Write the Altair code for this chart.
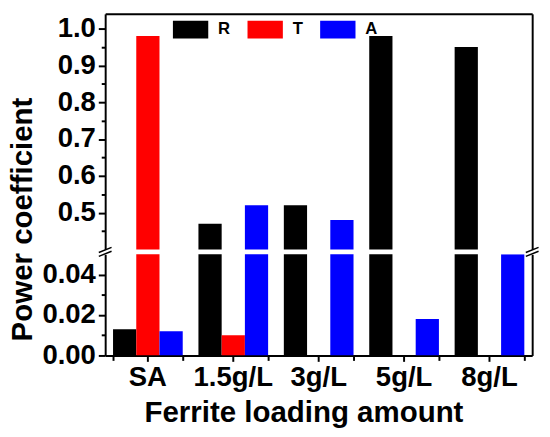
import altair as alt
import pandas as pd

categories = ["SA", "1.5g/L", "3g/L", "5g/L", "8g/L"]
series = ["R", "T", "A"]
r_values = [0.013, 0.47, 0.52, 0.98, 0.95]
t_values = [0.98, 0.010, 0.0, 0.0, 0.0]
a_values = [0.012, 0.52, 0.48, 0.018, 0.05]
colors = ["#000000", "#FF0000", "#0000FF"]

upper_ticks = [0.5, 0.6, 0.7, 0.8, 0.9, 1.0]
upper_minor = [0.45, 0.55, 0.65, 0.75, 0.85, 0.95]
lower_ticks = [0.0, 0.02, 0.04]
lower_minor = [0.01, 0.03]
upper_domain = [0.4, 1.04]
lower_domain = [0.0, 0.05]
break_value = [0.05]

rows = []
for s, vals in zip(series, [r_values, t_values, a_values]):
    for c, v in zip(categories, vals):
        rows.append({"cat": c, "series": s, "value": v})
df = pd.DataFrame(rows)
brk = pd.DataFrame({"v": break_value})

FONT = "Liberation Sans"
W = 435
H_UP = 240
H_LO = 103

xscale = alt.Scale(domain=categories, paddingInner=0.184, paddingOuter=0.092)
xoff = alt.XOffset("series:N", sort=series,
                   scale=alt.Scale(domain=series, paddingInner=0, paddingOuter=0))
up_scale = alt.Scale(domain=upper_domain, zero=False, nice=False)
lo_scale = alt.Scale(domain=lower_domain, zero=False, nice=False)
color_scale = alt.Scale(domain=series, range=colors)

legend = alt.Legend(
    orient="none", legendX=69, legendY=-2, direction="horizontal", title=None,
    symbolType="M-1,-0.5L1,-0.5L1,0.5L-1,0.5Z", symbolSize=1296,
    symbolStrokeWidth=0, symbolOpacity=1, padding=0,
    labelFont=FONT, labelFontSize=17, labelFontWeight="bold", labelColor="black",
    labelOffset=10, columnPadding=17,
)

top_axis = alt.Axis(orient="top", labels=False, ticks=False, title=None)
bottom_axis = alt.Axis(orient="bottom", labelAngle=0, tickSize=6, labelPadding=3,
                       title="Ferrite loading amount", titlePadding=6, titleX=202)
bottom_minor_axis = alt.Axis(orient="bottom", tickBand="extent", labels=False,
                             domain=False, tickSize=5, title=None)

# ---------- upper panel ----------
bars_up = alt.Chart(df).mark_bar(clip=True).encode(
    x=alt.X("cat:N", sort=categories, scale=xscale, axis=top_axis),
    xOffset=xoff,
    y=alt.Y("value:Q", scale=up_scale,
            axis=alt.Axis(values=upper_ticks, format=".1f", title=None,
                          tickSize=7, labelPadding=3)),
    color=alt.Color("series:N", sort=series, scale=color_scale, legend=legend),
)
minor_up = alt.Chart(df).mark_bar(opacity=0, clip=True).encode(
    x=alt.X("cat:N", sort=categories, scale=xscale, axis=top_axis),
    y=alt.Y("value:Q", scale=up_scale,
            axis=alt.Axis(orient="left", values=upper_minor, labels=False,
                          domain=False, tickSize=4, title=None)),
)
right_up = alt.Chart(df).mark_bar(opacity=0, clip=True).encode(
    x=alt.X("cat:N", sort=categories, scale=xscale, axis=top_axis),
    y=alt.Y("value:Q", scale=up_scale,
            axis=alt.Axis(orient="right", labels=False, ticks=False, title=None)),
)
upper = alt.layer(bars_up, minor_up, right_up).resolve_axis(
    y="independent").properties(width=W, height=H_UP)

# ---------- lower panel ----------
bars_lo = alt.Chart(df).mark_bar(clip=True).encode(
    x=alt.X("cat:N", sort=categories, scale=xscale, axis=bottom_axis),
    xOffset=xoff,
    y=alt.Y("value:Q", scale=lo_scale,
            axis=alt.Axis(values=lower_ticks, format=".2f", title=None,
                          tickSize=7, labelPadding=3)),
    color=alt.Color("series:N", sort=series, scale=color_scale, legend=None),
)
minor_lo = alt.Chart(df).mark_bar(opacity=0, clip=True).encode(
    x=alt.X("cat:N", sort=categories, scale=xscale, axis=bottom_minor_axis),
    y=alt.Y("value:Q", scale=lo_scale,
            axis=alt.Axis(orient="left", values=lower_minor, labels=False,
                          domain=False, tickSize=4, title=None)),
)
right_lo = alt.Chart(df).mark_bar(opacity=0, clip=True).encode(
    x=alt.X("cat:N", sort=categories, scale=xscale, axis=None),
    y=alt.Y("value:Q", scale=lo_scale,
            axis=alt.Axis(orient="right", labels=False, ticks=False, title=None)),
)
slash = "M-1,0.1L1,-0.7M-1,0.7L1,-0.1"
brk_left = alt.Chart(brk).mark_point(
    shape=slash, size=169, filled=False, stroke="black", strokeWidth=1.5,
    opacity=1, yOffset=-2.5,
).encode(x=alt.value(0), y=alt.Y("v:Q", scale=lo_scale, axis=None))
brk_right = alt.Chart(brk).mark_point(
    shape=slash, size=169, filled=False, stroke="black", strokeWidth=1.5,
    opacity=1, yOffset=-2.5,
).encode(x=alt.value(W), y=alt.Y("v:Q", scale=lo_scale, axis=None))

lower = alt.layer(bars_lo, minor_lo, right_lo, brk_left, brk_right).resolve_axis(
    x="independent", y="independent").properties(width=W, height=H_LO)

chart = alt.vconcat(
    upper, lower, spacing=5, bounds="flush",
    title=alt.TitleParams("Power coefficient", orient="left", anchor="middle",
                          font=FONT, fontSize=30, fontWeight="bold", color="black",
                          offset=4),
).properties(padding=0).configure_view(stroke=None).configure_axis(
    labelFont=FONT, labelFontSize=28, labelFontWeight="bold", labelColor="black",
    titleFont=FONT, titleFontSize=30, titleFontWeight="bold", titleColor="black",
    domainColor="black", domainWidth=2, tickColor="black", tickWidth=2, grid=False,
)

chart.save("out.html", embed_options={"renderer": "svg", "actions": False})
